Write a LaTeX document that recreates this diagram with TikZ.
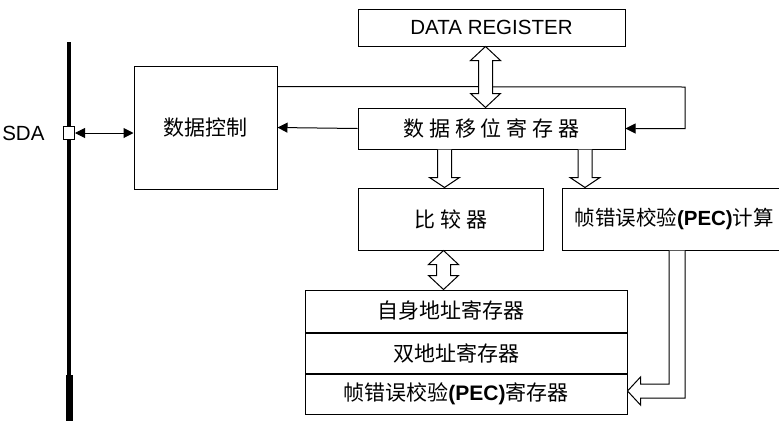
\documentclass[tikz,border=0pt]{standalone}
\usepackage{fontspec}
\setmainfont{Liberation Sans}
\newfontfamily\cjk{Noto Sans CJK SC}
\usetikzlibrary{arrows.meta,positioning,calc}

\newcommand{\chsep}{\hspace{5pt}}
\newcommand{\lat}[1]{{\normalfont\bfseries #1}}
% hollow arrow with two heads, #1 upper end, #2 lower end, #3 head length
\newcommand{\hollowboth}[3]{%
  \draw[hollow] let \p1=(#1), \p2=(#2) in
    (\x1,\y1) -- (\x1-15pt,\y1-#3) -- (\x1-7pt,\y1-#3) -- (\x1-7pt,\y2+#3)
    -- (\x1-15pt,\y2+#3) -- (\x1,\y2) -- (\x1+15pt,\y2+#3) -- (\x1+7pt,\y2+#3)
    -- (\x1+7pt,\y1-#3) -- (\x1+15pt,\y1-#3) -- cycle;}
% hollow arrow pointing down, #1 start, #2 tip
\newcommand{\hollowdown}[2]{%
  \draw[hollow] let \p1=(#1), \p2=(#2) in
    (\x2-7pt,\y1) -- (\x2-7pt,\y2+10pt) -- (\x2-15pt,\y2+10pt) -- (\x2,\y2)
    -- (\x2+15pt,\y2+10pt) -- (\x2+7pt,\y2+10pt) -- (\x2+7pt,\y1);}

\begin{document}
\begin{tikzpicture}[x=1pt,y=-1pt,
    every node/.style={font=\cjk\fontsize{21pt}{25pt}\selectfont},
    latin/.style={font=\fontsize{20.5pt}{24pt}\selectfont},
    box/.style={draw,line width=1pt,inner sep=0pt},
    hollow/.style={draw,fill=white,line width=1pt,line join=miter},
    link/.style={line width=1pt},
    >={Triangle[length=10pt,width=10pt]}]
  \useasboundingbox (0,0) rectangle (779,421);

  % SDA bus
  \draw[line width=4pt] (69,42) -- (69,421);
  \draw[line width=7pt] (69,375) -- (69,421);
  \node[draw,fill=white,line width=1pt,inner sep=0pt,minimum width=11pt,minimum height=13pt] (pin) at (69,133) {};
  \node[latin,left=15pt of pin] (sda) {SDA};

  % blocks
  \node[box,latin,minimum width=267pt,minimum height=37pt] (dreg) at (491.5,27.5) {DATA REGISTER};
  \node[box,minimum width=267pt,minimum height=41pt,below=61pt of dreg] (sreg) {数\chsep{}据\chsep{}移\chsep{}位\chsep{}寄\chsep{}存\chsep{}器};
  \node[box,minimum width=143pt,minimum height=123pt] (ctrl) at (205.5,127.5) {数据控制};
  \node[box,minimum width=185pt,minimum height=62pt] (cmp) at (450.5,219) {比\chsep{}较\chsep{}器};
  \node[box,anchor=west,minimum height=62pt,inner xsep=12pt,text width=240pt,align=left,
        font=\cjk\fontsize{20.5pt}{25pt}\selectfont] (pec) at (562,219) {帧错误校验\lat{(PEC)}计算};
  \node[box,minimum width=322pt,minimum height=42pt] (reg1) at (466,311) {自身地址寄存器\hspace*{30pt}};
  \node[box,minimum width=322pt,minimum height=40pt,below=0pt of reg1] (reg2) {双地址寄存器\hspace*{20pt}};
  \node[box,minimum width=322pt,minimum height=40pt,below=0pt of reg2] (reg3) {帧错误校验\lat{(PEC)}寄存器\hspace*{20pt}};

  % connectors
  \coordinate (fbturn) at (685,87);
  \draw[link,<->] (pin.east) -- (pin.east -| ctrl.west);
  \draw[link,->] (sreg.west) -- (ctrl.east);
  \draw[link,->] ([yshift=-21pt]ctrl.north east) -- (fbturn) |- (sreg.east);

  \hollowboth{[xshift=-6pt]dreg.south}{sreg.north}{14pt}
  \hollowdown{sreg.south}{[xshift=-6pt]cmp.north}
  \hollowdown{sreg.south}{[xshift=23pt]pec.north west}
  \hollowboth{[xshift=-7pt]cmp.south}{reg1.north}{14pt}
  \draw[hollow] let \p1=([xshift=107pt]pec.south west), \p2=([yshift=3pt]reg3.east) in
    (\x1,\y1) -- (\x1,\y2+7pt) -- (\x2+13pt,\y2+7pt) -- (\x2+13pt,\y2+14pt) -- (\x2,\y2)
    -- (\x2+13pt,\y2-14pt) -- (\x2+13pt,\y2-7pt) -- (\x1+16pt,\y2-7pt) -- (\x1+16pt,\y1);
\end{tikzpicture}
\end{document}
